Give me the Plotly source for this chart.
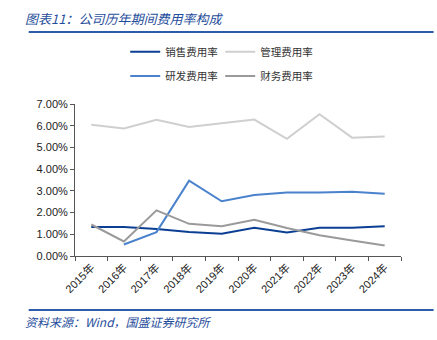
import plotly.graph_objects as go

# Period expense ratios (%) by year
years = ["2015年", "2016年", "2017年", "2018年", "2019年",
         "2020年", "2021年", "2022年", "2023年", "2024年"]
sales_rate = [1.33, 1.34, 1.24, 1.11, 1.02, 1.30, 1.08, 1.30, 1.30, 1.37]
admin_rate = [6.04, 5.87, 6.27, 5.94, 6.11, 6.28, 5.40, 6.53, 5.45, 5.50]
rd_rate = [None, 0.53, 1.10, 3.47, 2.52, 2.81, 2.92, 2.92, 2.96, 2.87]
fin_rate = [1.45, 0.67, 2.10, 1.48, 1.37, 1.67, 1.29, 0.96, 0.71, 0.48]

y_ticks = [0, 1, 2, 3, 4, 5, 6, 7]
y_tick_text = [f"{v:.2f}%" for v in y_ticks]

CJK = "Noto Sans CJK SC"
BLUE_TXT = "#1f4e9c"

series = [
    ("销售费用率", sales_rate, "#0b3f94", "legend"),
    ("管理费用率", admin_rate, "#cfcfcf", "legend"),
    ("研发费用率", rd_rate, "#4a82cc", "legend2"),
    ("财务费用率", fin_rate, "#9a9a9a", "legend2"),
]

fig = go.Figure()
for name, vals, color, lg in series:
    fig.add_trace(go.Scatter(
        x=years, y=vals, name=name, mode="lines",
        line=dict(color=color, width=2),
        legend=lg, connectgaps=False,
    ))

legend_common = dict(
    orientation="h", xanchor="left", yanchor="middle",
    font=dict(family=CJK, size=10.5, color="#333333"),
    entrywidth=50, entrywidthmode="pixels",
    bgcolor="rgba(0,0,0,0)", itemwidth=30,
)

fig.update_layout(
    width=437, height=340,
    margin=dict(l=75, r=36, t=104, b=84),
    paper_bgcolor="white", plot_bgcolor="white",
    showlegend=True,
    legend=dict(x=0.154, y=1.343, **legend_common),
    legend2=dict(x=0.154, y=1.185, **legend_common),
    xaxis=dict(
        type="category", range=[-0.5, 9.5],
        tickson="boundaries", ticks="outside", ticklen=4,
        tickcolor="#555555", showline=True, linecolor="#555555",
        linewidth=1, showgrid=False, tickangle=-45,
        tickfont=dict(family="Liberation Sans, Noto Sans CJK SC", size=11, color="#222222"),
    ),
    yaxis=dict(
        range=[0, 7], tickvals=y_ticks, ticktext=y_tick_text,
        ticks="outside", ticklen=4, tickcolor="#555555",
        showline=True, linecolor="#555555", linewidth=1,
        showgrid=False, zeroline=False,
        tickfont=dict(family="Liberation Sans", size=11, color="#222222"),
    ),
    shapes=[
        dict(type="line", xref="paper", yref="paper",
             x0=-0.142, x1=1.1, y0=1.474, y1=1.474,
             line=dict(color="#2a5caa", width=2)),
        dict(type="line", xref="paper", yref="paper",
             x0=-0.142, x1=1.1, y0=-0.355, y1=-0.355,
             line=dict(color="#2a5caa", width=2)),
    ],
    annotations=[
        dict(text="<i>图表11：公司历年期间费用率构成</i>", xref="paper", yref="paper",
             x=-0.16, y=1.56, xanchor="left", yanchor="middle", showarrow=False,
             font=dict(family=CJK, size=13, color=BLUE_TXT)),
        dict(text="<i>资料来源：Wind，国盛证券研究所</i>", xref="paper", yref="paper",
             x=-0.16, y=-0.43, xanchor="left", yanchor="middle", showarrow=False,
             font=dict(family=CJK, size=12, color=BLUE_TXT)),
    ],
)

fig.write_html("out.html")
